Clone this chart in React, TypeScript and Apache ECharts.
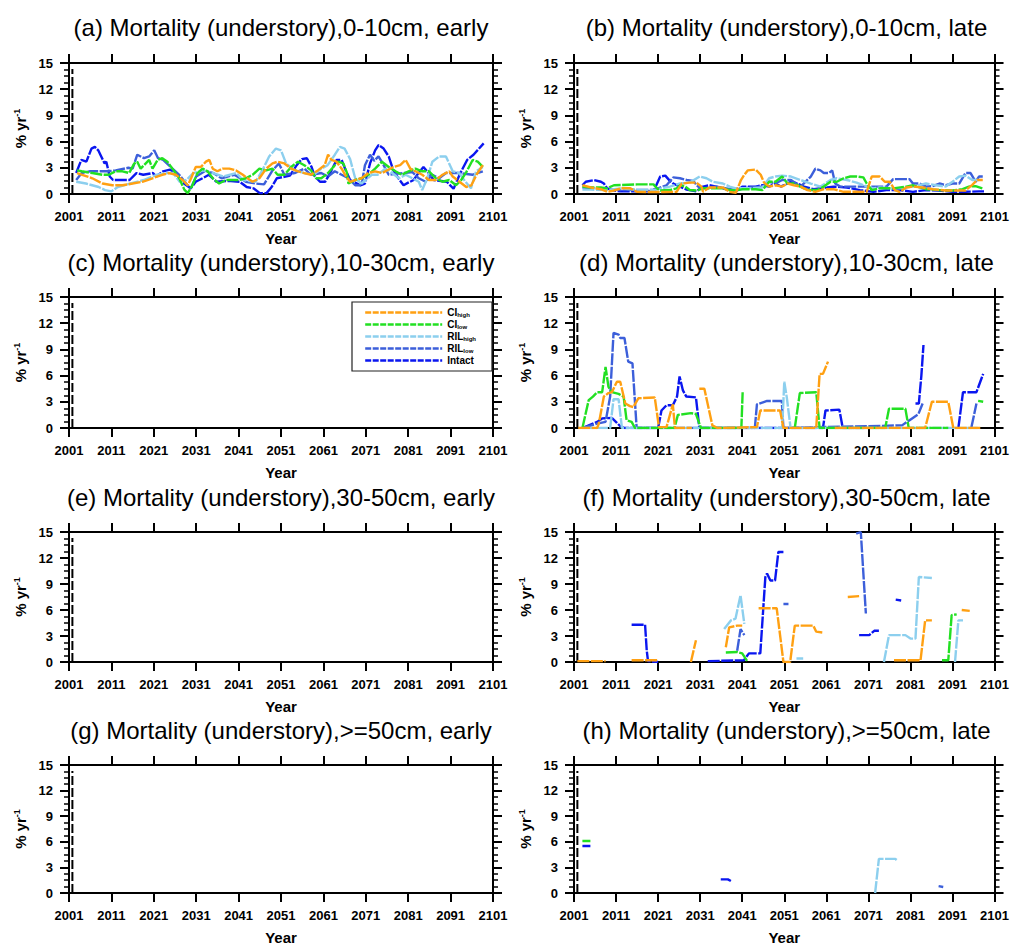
import React, { useEffect, useRef } from "react";
import * as echarts from "echarts";

// ---------- axis settings ----------
const YEAR_MIN = 2001;
const YEAR_MAX = 2101;
const YEAR_STEP = 10;
const VAL_MIN = 0;
const VAL_MAX = 15;
const VAL_STEP = 3;

// ---------- series names / colours ----------
const seriesNames = ["CI_high", "CI_low", "RIL_high", "RIL_low", "Intact"];
const seriesLabels: Record<string, string> = {
  CI_high: "CI{sub|high}",
  CI_low: "CI{sub|low}",
  RIL_high: "RIL{sub|high}",
  RIL_low: "RIL{sub|low}",
  Intact: "Intact",
};
const seriesColors: Record<string, string> = {
  CI_high: "#FFA012",
  CI_low: "#22E022",
  RIL_high: "#8CCFEE",
  RIL_low: "#3C5FDA",
  Intact: "#0A16F0",
};

// dashed black reference line near the left axis (year, value)
const refLine = [
  [2001.8, 0],
  [2001.8, 14.3],
];

type P = [number, number | null];

// ---------- (a) 0-10cm, early ----------
const aIntact: P[] = [[2002.7,2.4],[2003.9,3.9],[2005.1,3.7],[2006.3,5.2],[2007.1,5.4],[2007.9,5.0],[2008.6,4.3],[2009.4,3.5],[2009.8,3.7],[2010.6,2.0],[2011.4,1.6],[2015.3,1.6],[2016.9,2.4],[2018.5,2.2],[2020.8,2.4],[2021.6,2.0],[2023.2,2.6],[2024.8,2.8],[2026.4,2.3],[2027.5,1.4],[2028.7,1.0],[2029.7,0.65],[2030.9,1.4],[2032.5,1.8],[2034,2.2],[2035.8,1.4],[2038.5,1.5],[2041.3,1.4],[2042.9,0.8],[2044.5,0.65],[2046,0.1],[2047.6,0.1],[2048.8,0.8],[2050,1.8],[2053.1,2.1],[2054.7,3.3],[2055.9,4.0],[2057.1,4.1],[2058.2,3.1],[2059,2.0],[2060.2,1.4],[2061.4,1.4],[2062.6,2.4],[2064.1,3.9],[2065.3,3.9],[2066.1,2.9],[2067.3,1.6],[2069.7,1.0],[2070.8,1.2],[2072,3.5],[2073.2,5.0],[2074,5.6],[2075.2,5.2],[2076.4,4.3],[2077.5,2.7],[2078.7,1.8],[2079.9,1.0],[2081,1.3],[2082.3,1.6],[2083.4,2.4],[2084.6,3.1],[2085.8,2.4],[2087,1.6],[2090.1,1.4],[2091.7,0.6],[2093.3,2.4],[2094.9,3.9],[2096.4,4.5],[2098.8,5.8]];
const aRILlow: P[] = [[2002.7,1.6],[2004,2.4],[2006,2.6],[2010,2.6],[2012,2.7],[2015,3.0],[2016,2.9],[2017.1,4.5],[2018.7,4.1],[2019.9,4.3],[2021.1,5.0],[2022,4.1],[2023.2,3.9],[2025.4,2.9],[2027,2.2],[2028.6,1.2],[2029.7,0.6],[2031,2.0],[2033,2.6],[2035,2.4],[2037,1.8],[2040,2.2],[2042.7,1.4],[2045,1.2],[2047,1.1],[2049,2.7],[2050.5,3.5],[2051.8,2.2],[2054.2,2.4],[2056.5,2.9],[2058.1,2.2],[2060.5,2.4],[2062.1,2.0],[2063.7,2.6],[2065.3,2.2],[2066.9,1.8],[2068.5,1.0],[2070,1.0],[2070.8,3.3],[2072,4.5],[2073,3.8],[2074,4.3],[2075.2,3.3],[2076.4,2.2],[2078,2.3],[2080,2.4],[2082,2.5],[2083.5,1.8],[2085.1,1.4],[2086.7,2.2],[2088.3,1.8],[2089.9,2.4],[2093,2.4],[2096.2,2.2],[2098.6,2.6]];
const aRILhigh: P[] = [[2002.7,1.4],[2005,1.2],[2008,0.8],[2009.5,0.45],[2011,0.3],[2012.5,0.8],[2015.5,1.2],[2018.6,1.6],[2021.7,2.2],[2024,2.4],[2025.6,2.4],[2027.1,1.4],[2028.7,1.6],[2030.3,2.4],[2032.7,2.7],[2035,2.4],[2037.4,2.0],[2040.5,2.4],[2042,1.6],[2045,1.4],[2046.6,2.7],[2048.2,4.3],[2049.8,5.2],[2051,5.0],[2052.2,3.5],[2054,2.8],[2057,2.3],[2059,2.3],[2060.5,2.9],[2062,3.3],[2063.7,4.5],[2064.9,5.4],[2066,5.2],[2067.3,4.0],[2068.5,1.8],[2070,1.2],[2072.4,2.2],[2073.8,2.2],[2075.6,2.9],[2077.2,2.4],[2078.8,1.8],[2080.4,2.2],[2082,1.8],[2083.5,1.4],[2084.3,0.45],[2085.5,1.8],[2086.7,3.7],[2088.3,4.3],[2089.9,4.3],[2091.5,2.6],[2093,2.4],[2094.5,1.4],[2095.8,0.65],[2097,2.6],[2098.6,3.1]];
const aCIlow: P[] = [[2002.9,2.7],[2004,2.6],[2006.5,2.4],[2008.9,2.2],[2010.4,2.2],[2012,2.6],[2013.6,2.6],[2015.2,2.4],[2016.4,3.5],[2017.1,3.7],[2017.9,2.9],[2018.7,3.3],[2019.9,3.9],[2020.7,2.9],[2021.9,3.9],[2023,4.1],[2024.2,3.7],[2025.4,2.9],[2027,1.8],[2028.2,0.5],[2029,0.1],[2030.1,1.0],[2031.3,2.4],[2032.5,2.9],[2033.7,2.6],[2034.9,1.8],[2036.4,1.2],[2038,1.6],[2039.5,1.6],[2041,1.6],[2042.7,1.8],[2044.3,2.2],[2045.9,2.9],[2047.5,2.7],[2049,2.9],[2050.2,2.2],[2051.8,2.2],[2053.4,3.1],[2055,3.7],[2056.5,3.3],[2058.1,2.7],[2059.3,1.8],[2060.5,1.8],[2062.1,2.4],[2063.7,3.3],[2064.5,3.7],[2065.7,3.5],[2066.5,2.5],[2066.9,1.2],[2068.5,1.6],[2070,1.8],[2071.6,2.2],[2073.2,2.9],[2074.8,3.7],[2076.4,3.1],[2078,2.6],[2079.5,2.2],[2081.1,2.6],[2082.7,2.9],[2084.3,2.6],[2085.9,2.6],[2087.5,1.8],[2089.1,1.4],[2090.7,1.6],[2092.3,1.0],[2093.5,1.6],[2094.7,2.5],[2096.2,3.9],[2097.4,3.7],[2098.6,3.1]];
const aCIhigh: P[] = [[2002.9,2.4],[2004.1,2.2],[2006.5,1.8],[2008.9,1.2],[2011.2,1.0],[2013.6,1.0],[2016,1.2],[2018.3,1.4],[2020.7,1.8],[2023,2.2],[2024.6,2.4],[2026.2,2.2],[2027.8,1.6],[2029,1.0],[2029.8,1.8],[2030.9,3.1],[2032.1,3.1],[2033.3,3.7],[2034.1,3.9],[2034.9,2.9],[2036,2.6],[2037.2,2.9],[2038.8,2.9],[2040.4,2.7],[2042,2.2],[2043.1,1.8],[2044.3,1.4],[2045.9,1.8],[2047.5,2.9],[2049,3.5],[2050.2,3.7],[2051.8,3.5],[2053.4,2.9],[2055,2.6],[2056.5,2.4],[2058.1,2.2],[2059.7,2.7],[2061.3,3.3],[2062.1,4.5],[2062.9,3.9],[2064.1,3.7],[2065.3,2.9],[2066.1,2.2],[2067.3,1.4],[2068.5,1.6],[2070,1.8],[2071.6,2.4],[2073.2,2.6],[2074.8,2.4],[2076.4,2.8],[2077.5,3.1],[2079.1,3.3],[2080.4,3.9],[2081.5,2.9],[2082.7,2.6],[2084.3,2.2],[2085.9,1.6],[2087.5,1.6],[2089.1,2.2],[2090.7,2.6],[2091.5,2.0],[2093.1,1.4],[2094.7,0.8],[2095.9,1.0],[2097.1,2.2],[2098.6,3.3]];

// ---------- (b) 0-10cm, late ----------
const bIntact: P[] = [[2003,1.0],[2003.8,1.4],[2005.8,1.6],[2007.4,1.4],[2008.1,1.2],[2008.9,0.65],[2010.5,0.4],[2012.1,0.3],[2019.9,0.3],[2021.5,2.0],[2022.7,2.1],[2023.8,1.5],[2024.6,1.2],[2026.2,0.85],[2027.8,0.5],[2030.1,0.3],[2031.7,0.85],[2033.2,1.0],[2034.8,0.85],[2036.4,0.65],[2038,0.45],[2039.5,0.3],[2041.1,0.85],[2044.2,0.85],[2045.8,1.0],[2047.4,0.85],[2048.9,1.2],[2050.2,0.85],[2052.6,1.4],[2054.1,1.2],[2055.7,0.85],[2058,0.55],[2061.2,0.75],[2062.7,0.85],[2065.9,0.75],[2069,0.45],[2072.2,0.25],[2075.3,0.45],[2078.4,0.45],[2081.6,0.25],[2084.7,0.45],[2087.8,0.4],[2091,0.25],[2094.1,0.25],[2097.3,0.3],[2098.5,0.3]];
const bRILlow: P[] = [[2003,0.75],[2008.9,0.55],[2012.1,0.45],[2019.9,0.45],[2023,1.0],[2024.6,1.9],[2026.2,1.8],[2027.8,1.6],[2029.3,1.5],[2030.5,0.85],[2031.7,0.65],[2034.8,0.85],[2037.2,0.65],[2039.5,0.45],[2042.7,0.75],[2045.8,0.85],[2047.4,1.4],[2048.9,1.2],[2050.5,1.6],[2052.6,1.6],[2054.9,0.85],[2057.3,2.0],[2058.4,2.9],[2059.6,2.7],[2060.4,2.4],[2061.6,2.4],[2062.4,2.7],[2063.1,1.2],[2064.3,0.85],[2067.5,0.85],[2071.8,0.85],[2075.3,0.85],[2076.9,1.7],[2080.8,1.7],[2081.6,1.2],[2083.2,1.2],[2084.7,0.85],[2086.3,0.9],[2087.9,1.2],[2089.4,1.0],[2091,1.2],[2092.6,1.2],[2094.1,2.4],[2095.3,2.4],[2096.5,1.4],[2097.3,2.0],[2098.2,2.0]];
const bRILhigh: P[] = [[2003,0.5],[2005,0.5],[2008.9,0.45],[2012.1,0.65],[2016,0.5],[2019.9,0.45],[2023.8,0.85],[2026.2,1.2],[2028.5,1.3],[2030.9,2.0],[2032.5,1.8],[2034,1.4],[2036.4,1.2],[2038,0.85],[2039.5,0.65],[2042.7,0.65],[2045.8,0.75],[2047.4,1.8],[2048.9,2.0],[2050.5,2.1],[2052.6,2.0],[2054.9,1.6],[2057.3,1.2],[2059.6,0.85],[2062,1.6],[2063.5,1.8],[2065.9,1.6],[2068.2,1.3],[2070.6,0.85],[2072.2,0.65],[2073.7,0.75],[2076.1,0.65],[2078.4,0.65],[2081.6,0.85],[2084.7,1.2],[2087.1,1.0],[2089.4,0.85],[2091,1.4],[2092.6,2.0],[2094.1,2.1],[2095.7,1.6],[2097.3,1.6]];
const bCIlow: P[] = [[2003,0.85],[2005,0.75],[2007.4,0.75],[2008.9,0.65],[2010.5,1.0],[2016,1.1],[2019.9,1.1],[2020.7,0.65],[2021.5,0.4],[2023.8,0.45],[2025.4,0.65],[2026.2,1.0],[2027.3,0.9],[2028.5,0.45],[2030.1,0.4],[2031.7,0.65],[2036.4,0.65],[2038,0.45],[2039.5,0.4],[2041.1,0.55],[2044.2,0.55],[2045.8,0.45],[2047.4,1.4],[2048.9,1.4],[2050.5,2.0],[2051.8,1.2],[2053.3,1.2],[2055.7,0.65],[2057.3,0.45],[2058.8,0.45],[2060.4,0.85],[2062,1.4],[2063.5,1.4],[2065.1,1.8],[2066.7,2.0],[2068.2,2.0],[2069.8,1.9],[2070.6,1.2],[2071.8,0.45],[2073.7,0.65],[2076.9,0.65],[2080,0.85],[2081.6,1.0],[2083.2,0.75],[2084.7,0.55],[2087.8,0.45],[2091,0.4],[2093.4,0.55],[2094.9,0.85],[2096.5,0.9],[2098.1,0.65]];
const bCIhigh: P[] = [[2003,1.0],[2005,0.75],[2007.4,0.55],[2008.9,0.25],[2010.5,0.4],[2012.1,0.65],[2014.4,0.65],[2016,0.25],[2019.1,0.23],[2022.3,0.23],[2025.4,0.25],[2026.6,1.2],[2028.5,1.3],[2030.1,1.3],[2031.3,0.85],[2031.7,0.25],[2033.2,0.75],[2036.4,0.75],[2038,0.25],[2039.5,0.15],[2040.7,1.6],[2041.5,2.2],[2042.3,2.7],[2044.2,2.8],[2045.4,2.2],[2046.2,1.3],[2047.4,0.85],[2048.9,1.0],[2050.5,0.85],[2051.8,1.2],[2053.3,1.0],[2054.9,0.85],[2056.5,0.45],[2058.4,0.25],[2060.4,0.55],[2062.7,0.55],[2065.1,0.25],[2068.2,0.25],[2070.6,0.25],[2071.8,2.0],[2073.7,2.0],[2074.9,1.4],[2076.1,1.4],[2077.3,0.45],[2078.4,0.25],[2080,0.75],[2081.6,0.85],[2083.9,0.75],[2086.3,0.55],[2089.4,0.4],[2092.6,0.4],[2094.1,0.4],[2095.7,1.05],[2096.9,1.6],[2098.2,1.6]];

// ---------- (d) 10-30cm, late ----------
const dIntact: P[] = [[2003,0],[2006.5,0.7],[2007.7,1.1],[2010,1.15],[2011.2,0.6],[2012,0.2],[2013,0],[2021,0],[2021.8,2.0],[2023,2.6],[2024.5,2.6],[2025.5,3.6],[2026.1,5.9],[2026.9,4.3],[2027.7,3.6],[2030,3.5],[2030.8,0],[2060.2,0],[2060.8,2.0],[2064.1,2.1],[2064.9,0],[2070,0],[2070.5,null],[2082.2,2.8],[2083,2.8],[2083.6,6.0],[2084.1,9.5],[2084.5,null],[2092.4,0],[2093.5,4.1],[2096.7,4.1],[2098.3,6.2]];
const dRILlow: P[] = [[2003,0],[2006.5,0.5],[2008.5,0.7],[2009.6,3.6],[2010.4,10.9],[2011.6,10.7],[2012,10.3],[2013,10.3],[2013.9,7.6],[2014.9,7.4],[2015.9,0],[2044,0],[2044.5,2.7],[2046.9,3.1],[2050.4,3.1],[2050.8,0],[2079,0.3],[2081.4,1.1],[2082.9,1.6],[2083.9,2.8],[2084.3,null],[2095.5,0.1],[2096.7,2.8]];
const dRILhigh: P[] = [[2003,0],[2009.6,0],[2010.4,3.3],[2011.6,3.3],[2012.4,0],[2050.5,0],[2051,5.3],[2051.6,3.5],[2052.5,0],[2097,0]];
const dCIlow: P[] = [[2003,0],[2004.5,3.2],[2005.5,3.6],[2006.5,4.1],[2007.7,4.1],[2008.5,7.0],[2009.2,4.7],[2010,4.1],[2011.6,3.9],[2012.8,3.6],[2013.5,0.9],[2014.7,0.7],[2015.5,0],[2024.9,0],[2025.7,1.5],[2028.8,1.7],[2030,1.6],[2031.2,0],[2040.8,0],[2041.1,4.1],[2041.5,null],[2053.5,0],[2054.7,4.0],[2058.6,4.1],[2059.4,0],[2075,0],[2075.9,2.2],[2079.8,2.2],[2080.6,0],[2090,0],[2091,null],[2097.1,3.1],[2098.3,3.0]];
const dCIhigh: P[] = [[2002,0],[2006.5,0],[2006.9,0.5],[2008.1,3.6],[2009.2,4.0],[2010,4.1],[2011.2,5.3],[2012,5.3],[2013.2,2.8],[2014.3,2.5],[2015.1,2.4],[2016.3,3.4],[2020.2,3.5],[2021.2,0.1],[2023,0.1],[2024.5,2.7],[2025,0],[2029,0],[2029.5,null],[2030.8,4.5],[2032,4.5],[2033.9,0.3],[2035.1,0],[2044.5,0.1],[2045.3,2.0],[2050,2.0],[2050.8,0],[2058.6,0],[2059.4,6.2],[2060.2,6.2],[2061.4,7.6],[2062,null],[2063,0],[2084.5,0],[2086.1,3.0],[2090,3.0],[2091.2,0],[2097.9,0]];

// ---------- (f) 30-50cm, late ----------
const fIntact: P[] = [[2014.7,4.3],[2017.9,4.3],[2018.3,1.3],[2018.6,0.1],[2021,0],[2022,null],[2032.8,0.1],[2041.4,0.2],[2042.6,1.0],[2045.3,1.0],[2046.5,9.8],[2046.9,10.2],[2047.7,9.4],[2048.8,9.4],[2049.6,12.7],[2050.8,12.7],[2051.5,null],[2068.8,3.1],[2071.2,3.1],[2072.4,3.6],[2073.5,3.6],[2075,null],[2077.5,7.2],[2078.8,7.1]];
const fRILlow: P[] = [[2039.8,1.3],[2040.6,3.8],[2041.5,3.1],[2042,null],[2050.8,6.7],[2052,6.7],[2053,null],[2068.1,14.8],[2069.2,15],[2070.4,5.6]];
const fRILhigh: P[] = [[2036.7,3.8],[2038.3,4.8],[2039.4,5.0],[2040.6,7.7],[2041.5,4.4],[2042,null],[2053.9,0.4],[2055.5,0.4],[2056,null],[2074.7,0],[2075.9,3.1],[2079.8,3.1],[2081,2.7],[2082.2,2.7],[2083,9.8],[2086.1,9.7],[2087,null],[2091.6,0],[2092.4,4.8],[2093.5,4.8]];
const fCIlow: P[] = [[2037.1,1.1],[2039.8,1.15],[2041,1.0],[2042.2,0.1],[2043,null],[2088.5,0.2],[2090,0.2],[2090.8,5.4],[2092,5.5]];
const fCIhigh: P[] = [[2001.8,0.1],[2008.5,0.1],[2009,null],[2014.7,0.2],[2021,0.2],[2022,null],[2028.8,0],[2030,2.5],[2031,null],[2037.1,1.7],[2037.9,4.0],[2039.8,4.2],[2041,4.2],[2042,null],[2044.9,6.2],[2049.2,6.2],[2050.8,0],[2052.4,0],[2053.5,4.2],[2057.9,4.2],[2058.6,3.5],[2060.2,3.4],[2061,null],[2066.1,7.5],[2068.8,7.6],[2069.5,null],[2077.1,0.2],[2083.4,0.2],[2084.5,4.8],[2086.1,4.8],[2087,null],[2093.2,6.0],[2095.1,5.9]];

// ---------- (h) >=50cm, late ----------
const hIntact: P[] = [[2003,5.5],[2004.9,5.5],[2005.5,null],[2035.9,1.6],[2037.6,1.6],[2038.3,1.4]];
const hRILlow: P[] = [[2087.7,0.8],[2088.8,0.7]];
const hRILhigh: P[] = [[2072.6,0],[2073.5,4.0],[2077.4,4.0],[2077.9,3.8]];
const hCIlow: P[] = [[2003,6.1],[2004.9,6.1]];
const hCIhigh: P[] = [];

const empty: P[] = [];

const panelTitles = [
  "(a) Mortality (understory),0-10cm, early",
  "(b) Mortality (understory),0-10cm, late",
  "(c) Mortality (understory),10-30cm, early",
  "(d) Mortality (understory),10-30cm, late",
  "(e) Mortality (understory),30-50cm, early",
  "(f) Mortality (understory),30-50cm, late",
  "(g) Mortality (understory),>=50cm, early",
  "(h) Mortality (understory),>=50cm, late",
];

const panelData: Record<string, P[]>[] = [
  { CI_high: aCIhigh, CI_low: aCIlow, RIL_high: aRILhigh, RIL_low: aRILlow, Intact: aIntact },
  { CI_high: bCIhigh, CI_low: bCIlow, RIL_high: bRILhigh, RIL_low: bRILlow, Intact: bIntact },
  { CI_high: empty, CI_low: empty, RIL_high: empty, RIL_low: empty, Intact: empty },
  { CI_high: dCIhigh, CI_low: dCIlow, RIL_high: dRILhigh, RIL_low: dRILlow, Intact: dIntact },
  { CI_high: empty, CI_low: empty, RIL_high: empty, RIL_low: empty, Intact: empty },
  { CI_high: fCIhigh, CI_low: fCIlow, RIL_high: fRILhigh, RIL_low: fRILlow, Intact: fIntact },
  { CI_high: empty, CI_low: empty, RIL_high: empty, RIL_low: empty, Intact: empty },
  { CI_high: hCIhigh, CI_low: hCIlow, RIL_high: hRILhigh, RIL_low: hRILlow, Intact: hIntact },
];

// ---------- layout ----------
const colLeft = [69, 574];
const colWidth = [424, 425];
const rowTop = [63, 297, 532, 765];
const rowHeight = [131, 131, 130, 128];
const titleTop = [15, 250, 485, 718];

const FONT = "'Liberation Sans', Arial, Helvetica, sans-serif";

function buildOption() {
  const grid: any[] = [];
  const xAxis: any[] = [];
  const yAxis: any[] = [];
  const series: any[] = [];
  const title: any[] = [];

  const axisLine = { onZero: false, lineStyle: { color: "#000", width: 2 } };
  const majorTick = { show: true, inside: false, length: 9, lineStyle: { color: "#000", width: 2 } };
  const labelStyle = { color: "#000", fontSize: 13, fontWeight: "bold", fontFamily: FONT };

  for (let i = 0; i < 8; i++) {
    const col = i % 2;
    const row = Math.floor(i / 2);
    grid.push({
      left: colLeft[col],
      top: rowTop[row],
      width: colWidth[col],
      height: rowHeight[row],
      containLabel: false,
    });
    title.push({
      text: panelTitles[i],
      left: colLeft[col] + colWidth[col] / 2,
      top: titleTop[row],
      textAlign: "center",
      padding: 0,
      textStyle: { fontSize: 24, fontWeight: "normal", color: "#000", fontFamily: FONT, lineHeight: 24 },
    });
    // bottom x axis
    xAxis.push({
      type: "value",
      gridIndex: i,
      position: "bottom",
      min: YEAR_MIN,
      max: YEAR_MAX,
      interval: YEAR_STEP,
      axisLine,
      axisTick: majorTick,
      axisLabel: {
        ...labelStyle,
        margin: 16,
        showMinLabel: true,
        showMaxLabel: true,
        formatter: (v: number) => String(Math.round(v)),
      },
      splitLine: { show: false },
      name: "Year",
      nameLocation: "middle",
      nameGap: 37,
      nameTextStyle: { color: "#000", fontSize: 15, fontWeight: "bold", fontFamily: FONT, lineHeight: 15 },
    });
    // top x axis (ticks only)
    xAxis.push({
      type: "value",
      gridIndex: i,
      position: "top",
      min: YEAR_MIN,
      max: YEAR_MAX,
      interval: YEAR_STEP,
      axisLine,
      axisTick: majorTick,
      axisLabel: { show: false },
      splitLine: { show: false },
    });
    // left y axis
    yAxis.push({
      type: "value",
      gridIndex: i,
      position: "left",
      min: VAL_MIN,
      max: VAL_MAX,
      interval: VAL_STEP,
      axisLine,
      axisTick: majorTick,
      minorTick: { show: true, splitNumber: 4, length: 5, lineStyle: { color: "#000", width: 1.5 } },
      axisLabel: { ...labelStyle, margin: 16 },
      splitLine: { show: false },
      minorSplitLine: { show: false },
      name: "% yr{sup|-1}",
      nameLocation: "middle",
      nameGap: 40,
      nameTextStyle: {
        color: "#000",
        fontSize: 15,
        fontWeight: "bold",
        fontFamily: FONT,
        rich: { sup: { fontSize: 9, fontWeight: "bold", fontFamily: FONT, padding: [0, 0, 8, 0] } },
      },
    });
    // right y axis (ticks only)
    yAxis.push({
      type: "value",
      gridIndex: i,
      position: "right",
      min: VAL_MIN,
      max: VAL_MAX,
      interval: VAL_STEP,
      axisLine,
      axisTick: majorTick,
      minorTick: { show: true, splitNumber: 4, length: 5, lineStyle: { color: "#000", width: 1.5 } },
      axisLabel: { show: false },
      splitLine: { show: false },
      minorSplitLine: { show: false },
    });

    // reference dashed line
    series.push({
      name: "ref",
      type: "line",
      xAxisIndex: 2 * i,
      yAxisIndex: 2 * i,
      data: refLine,
      symbol: "none",
      silent: true,
      lineStyle: { color: "#000", width: 2, type: [9, 3] },
      z: 1,
    });

    // data series, drawn so that CI_high is on top
    const drawOrder = ["Intact", "RIL_low", "RIL_high", "CI_low", "CI_high"];
    drawOrder.forEach((name, k) => {
      series.push({
        name,
        type: "line",
        xAxisIndex: 2 * i,
        yAxisIndex: 2 * i,
        data: panelData[i][name],
        symbol: "none",
        showSymbol: false,
        connectNulls: false,
        color: seriesColors[name],
        lineStyle: { color: seriesColors[name], width: 2.4, type: [12, 1.5] },
        z: 2 + k,
      });
    });
  }

  const legend = {
    data: seriesNames,
    orient: "vertical",
    left: 352,
    top: 302,
    itemWidth: 77,
    itemHeight: 8,
    itemGap: 1,
    padding: [5, 16, 5, 12],
    backgroundColor: "#fff",
    borderColor: "#222",
    borderWidth: 1.2,
    selectedMode: false,
    itemStyle: { opacity: 0, borderWidth: 0 },
    lineStyle: { width: 2.4, type: [6, 1.5], opacity: 1 },
    formatter: (name: string) => seriesLabels[name] || name,
    textStyle: {
      color: "#000",
      fontSize: 10,
      fontWeight: "bold",
      fontFamily: FONT,
      lineHeight: 11,
      rich: {
        sub: { fontSize: 6, lineHeight: 6, fontWeight: "bold", fontFamily: FONT, padding: [5, 0, 0, 0] },
      },
    },
  };

  return {
    animation: false,
    backgroundColor: "#fff",
    textStyle: { fontFamily: FONT },
    title,
    legend,
    grid,
    xAxis,
    yAxis,
    series,
  };
}

export default function App() {
  const ref = useRef<HTMLDivElement>(null);
  useEffect(() => {
    if (!ref.current) return;
    const chart = echarts.init(ref.current, undefined, { renderer: "svg" });
    chart.setOption(buildOption() as any);
    return () => {
      chart.dispose();
    };
  }, []);
  return (
    <div
      ref={ref}
      style={{ position: "fixed", left: 0, top: 0, width: 1012, height: 949, background: "#fff" }}
    />
  );
}
